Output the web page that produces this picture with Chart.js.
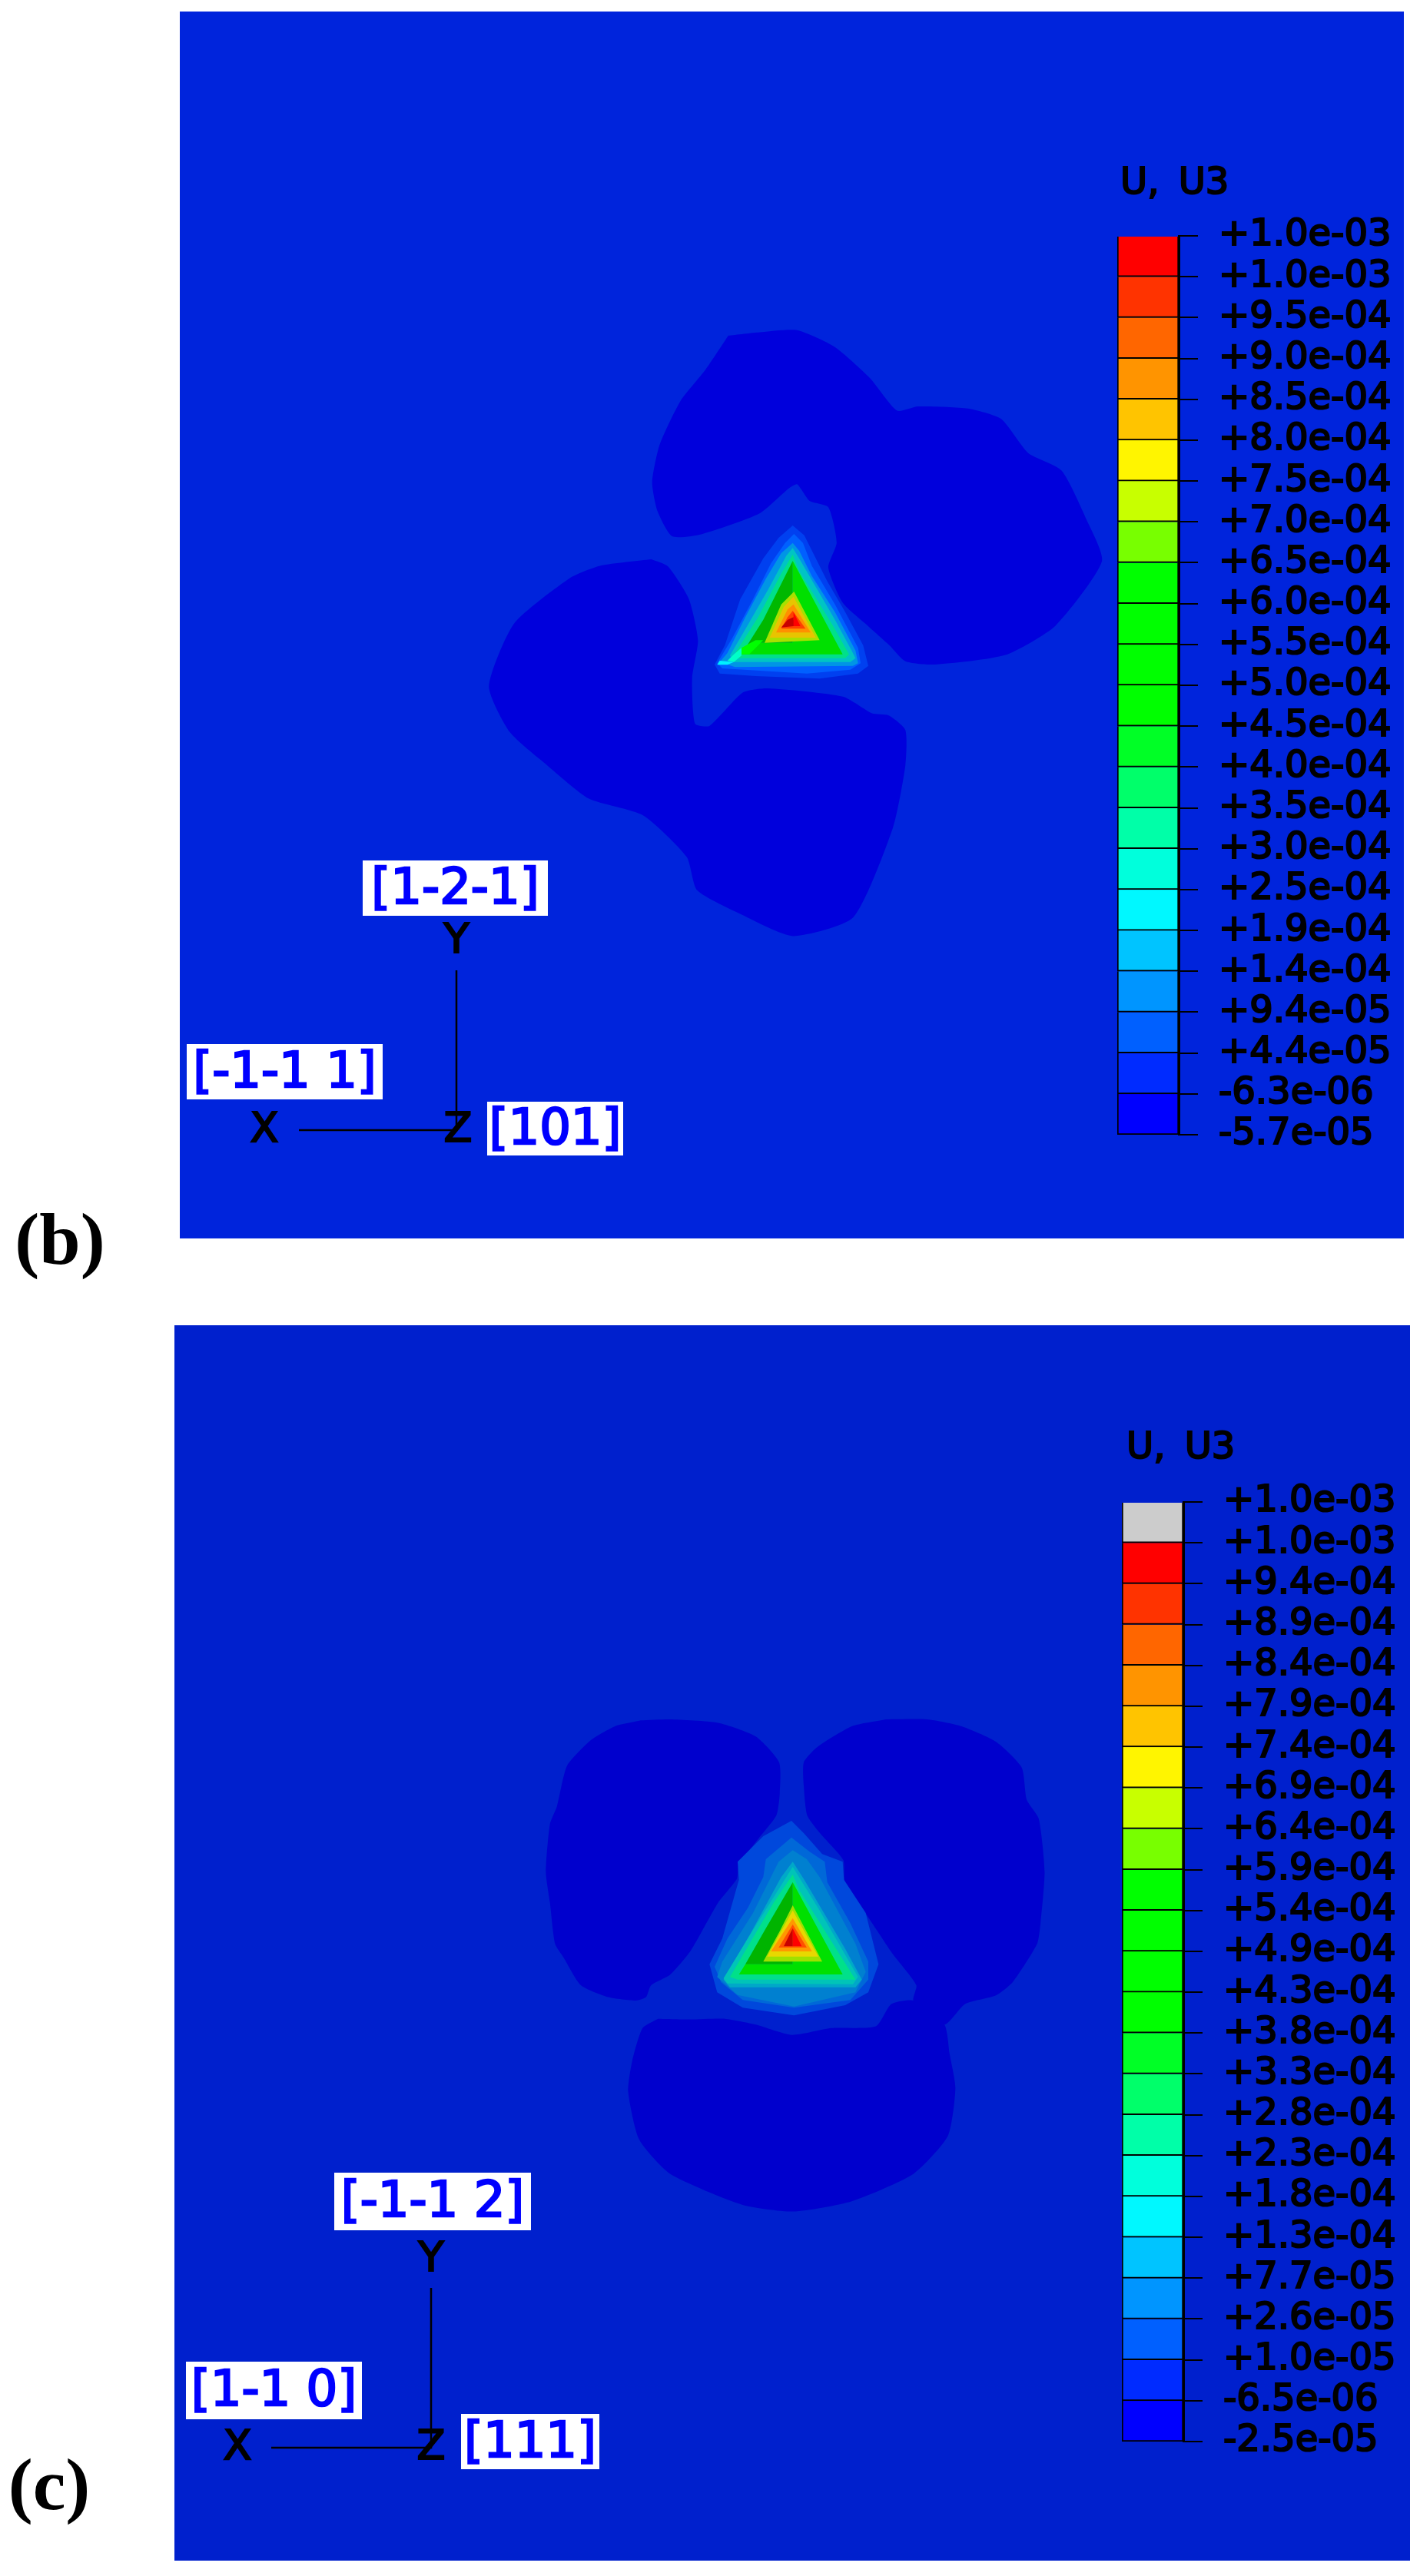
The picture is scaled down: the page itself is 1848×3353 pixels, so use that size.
<!DOCTYPE html>
<html>
<head>
<meta charset="utf-8">
<title>U3 contour maps</title>
<script src="https://cdn.jsdelivr.net/npm/chart.js@4"></script>
<style>
  html, body { margin: 0; padding: 0; background: #fff; }
  #wrap { position: relative; width: 1848px; height: 3353px; overflow: hidden; }
  canvas { position: absolute; }
</style>
</head>
<body>
<div id="wrap">
  <canvas id="field" width="1848" height="3353" style="left:0;top:0"></canvas>
  <canvas id="legend-b"></canvas>
  <canvas id="legend-c"></canvas>
</div>
<script>
// === DATA ===
const ticksB = ["+1.0e-03","+1.0e-03","+9.5e-04","+9.0e-04","+8.5e-04","+8.0e-04","+7.5e-04","+7.0e-04","+6.5e-04","+6.0e-04","+5.5e-04","+5.0e-04","+4.5e-04","+4.0e-04","+3.5e-04","+3.0e-04","+2.5e-04","+1.9e-04","+1.4e-04","+9.4e-05","+4.4e-05","-6.3e-06","-5.7e-05"];
const ticksC = ["+1.0e-03","+1.0e-03","+9.4e-04","+8.9e-04","+8.4e-04","+7.9e-04","+7.4e-04","+6.9e-04","+6.4e-04","+5.9e-04","+5.4e-04","+4.9e-04","+4.3e-04","+3.8e-04","+3.3e-04","+2.8e-04","+2.3e-04","+1.8e-04","+1.3e-04","+7.7e-05","+2.6e-05","+1.0e-05","-6.5e-06","-2.5e-05"];
const bandsB = ["#ff0000","#ff3300","#ff6600","#ff9400","#ffc400","#fff500","#c8ff00","#78ff00","#00ff00","#00ff00","#00ff00","#00ff00","#00ff26","#00ff6a","#00ffa8","#00ffdc","#00f8ff","#00c4ff","#0095ff","#0060ff","#002bff","#0000ff"];
const bandsC = ["#cccccc", ...bandsB];

// contour outlines (page = crop / k + origin)
const lobesB = [
  [[605,68],[680,60],[770,55],[860,95],[945,170],[1010,248],[1060,238],[1180,243],[1260,268],[1325,350],[1405,392],[1465,510],[1502,610],[1390,765],[1270,835],[1100,858],[1030,850],[990,810],[940,765],[880,710],[845,625],[865,565],[845,480],[800,465],[770,425],[750,435],[680,495],[540,545],[470,550],[435,490],[422,420],[440,330],[490,225],[550,150]],
  [[420,605],[460,622],[510,700],[532,800],[518,890],[525,1000],[560,1005],[640,925],[700,915],[880,935],[950,975],[990,980],[1030,1015],[1030,1100],[1000,1250],[905,1465],[760,1510],[640,1460],[530,1400],[505,1320],[400,1220],[270,1180],[170,1100],[80,1020],[30,910],[90,760],[225,650],[300,620]]
];
const ringsB = [
  ["#0040f0",[[395,12],[440,50],[470,110],[530,230],[600,350],[670,480],[690,560],[650,590],[500,610],[250,600],[110,590],[90,555],[130,480],[190,300],[280,140],[340,60]]],
  ["#0060ff",[[400,45],[435,80],[470,170],[560,320],[650,490],[660,550],[620,575],[450,590],[120,570],[100,550],[160,450],[240,300],[310,160],[365,80]]],
  ["#0095e5",[[395,80],[420,110],[470,210],[560,350],[640,500],[650,550],[630,560],[170,565],[110,545],[140,510],[210,370],[290,220],[350,120]]],
  ["#00c4c4",[[395,100],[420,140],[560,380],[625,500],[640,530],[620,545],[165,545],[150,520],[220,400],[300,260],[370,130]]],
  ["#00e08a",[[395,125],[420,190],[550,400],[615,515],[600,530],[180,530],[165,520],[260,370],[350,200]]],
  ["#00e000",[[395,150],[590,515],[195,515],[250,470],[395,470]]],
  ["#00b800",[[395,150],[395,470],[250,470],[195,515],[280,380]]],
  ["#00ffc8",[[165,545],[195,520],[195,490],[165,515],[140,540]]],
  ["#00f0ff",[[110,540],[165,545],[140,556],[100,556]]],
  ["#00ff00",[[195,490],[250,460],[280,460],[225,515],[195,515]]],
  ["#a8e000",[[400,270],[500,460],[285,470],[350,320]]],
  ["#e8c400",[[398,290],[485,450],[305,450],[360,330]]],
  ["#ff9000",[[398,320],[465,430],[330,430],[375,340]]],
  ["#ff4000",[[395,345],[445,415],[350,415],[375,370]]],
  ["#ff0000",[[398,350],[425,405],[375,405],[398,380]]],
  ["#c80000",[[398,370],[398,405],[350,410],[375,380]]]
];
const lobesC = [
  [[345,88],[430,85],[570,95],[680,135],[748,210],[750,300],[740,365],[690,430],[630,510],[625,550],[570,620],[490,760],[430,830],[375,860],[360,895],[330,905],[250,895],[170,860],[120,780],[95,740],[80,620],[68,530],[80,390],[100,340],[130,220],[200,145],[270,105]],
  [[1060,85],[1180,85],[1280,105],[1380,150],[1455,225],[1470,320],[1505,375],[1522,530],[1510,680],[1500,740],[1430,850],[1380,890],[1290,915],[1230,975],[1140,905],[1148,860],[1080,770],[1000,650],[940,560],[935,495],[870,420],[830,365],[820,280],[820,210],[860,165],[960,105]],
  [[395,958],[490,960],[590,958],[680,975],[785,1005],[900,985],[1030,980],[1075,915],[1140,905],[1230,975],[1245,1060],[1262,1160],[1240,1300],[1140,1410],[960,1490],[790,1520],[640,1500],[430,1410],[340,1310],[308,1170],[320,1080],[350,985]]
];
const ringsC = [
  ["#0048dc",[[390,-30],[440,20],[510,100],[590,130],[595,200],[680,330],[730,530],[690,640],[600,690],[400,730],[200,700],[100,640],[70,530],[120,430],[185,200],[180,130],[280,30]]],
  ["#0068d8",[[390,35],[460,90],[520,130],[530,210],[620,370],[690,520],[690,590],[620,670],[400,700],[200,670],[115,600],[90,540],[140,430],[220,310],[280,190],[290,120]]],
  ["#0080d0",[[395,85],[450,120],[500,190],[640,450],[680,560],[640,640],[400,695],[180,650],[100,580],[120,520],[240,330],[340,130]]],
  ["#00a8c8",[[395,130],[440,200],[600,470],[665,590],[640,620],[150,620],[125,590],[230,410],[350,190]]],
  ["#00c4b8",[[395,150],[500,320],[650,580],[630,608],[140,605],[125,585],[250,380]]],
  ["#00e08a",[[395,180],[420,240],[640,590],[180,590],[150,580],[320,290]]],
  ["#00e000",[[395,210],[590,570],[185,570],[210,530],[395,530]]],
  ["#00b400",[[395,210],[395,530],[210,530],[290,390]]],
  ["#9ee000",[[395,300],[510,520],[280,520],[345,400]]],
  ["#e8d800",[[395,320],[495,500],[295,500]]],
  ["#ff9800",[[395,350],[470,480],[310,480]]],
  ["#ff5000",[[395,375],[450,465],[340,465]]],
  ["#ff0000",[[395,390],[430,460],[395,460]]],
  ["#c80000",[[395,390],[395,460],[360,460]]]
];

// panel corners and axis triads [x, y] in page units
const panelB = [[234,15],[1827,15],[1827,1612],[234,1612]];
const panelC = [[227,1725],[1835,1725],[1835,3333],[227,3333]];
const triadB = [[389,1471],[594,1471],[594,1263]];
const triadC = [[353,3186],[561,3186],[561,2978]];

// === TEXT ===
const boxes = [
  { text: "[1-2-1]", x: 472, y: 1120, w: 241, h: 72 },
  { text: "[-1-1 1]", x: 243, y: 1359, w: 255, h: 72 },
  { text: "[101]", x: 634, y: 1434, w: 177, h: 70 },
  { text: "[-1-1 2]", x: 435, y: 2828, w: 256, h: 75 },
  { text: "[1-1 0]", x: 242, y: 3074, w: 229, h: 75 },
  { text: "[111]", x: 600, y: 3142, w: 180, h: 72 }
];
const axisNames = [
  { text: "Y", x: 594, y: 1226 }, { text: "X", x: 344, y: 1472 }, { text: "Z", x: 596, y: 1472 },
  { text: "Y", x: 561, y: 2942 }, { text: "X", x: 309, y: 3187 }, { text: "Z", x: 561, y: 3187 }
];
const titles = [
  { text: "U, U3", x: 1458, y: 240 },
  { text: "U, U3", x: 1466, y: 1886 }
];
const captions = [
  { text: "(b)", x: 78, y: 1620 },
  { text: "(c)", x: 64, y: 3241 }
];

// === Build field chart ===
const sans = '"DejaVu Sans"';
const fieldDatasets = [];

function addShape(color, pts, ox, oy, kx, ky, tension) {
  fieldDatasets.push({
    data: [...pts, pts[0]].map(p => ({ x: ox + p[0] / kx, y: oy + p[1] / ky })),
    showLine: true,
    borderWidth: 0,
    borderColor: color,
    backgroundColor: color,
    pointRadius: 0,
    tension: tension || 0,
    fill: "shape"
  });
}

addShape("#0024dc", panelB, 0, 0, 1, 1);
addShape("#0020cd", panelC, 0, 0, 1, 1);

lobesB.forEach(l => addShape("#0000dc", l, 620, 400, 1.845, 1.845, 0.2));
ringsB.forEach(r => addShape(r[0], r[1], 900, 680, 3, 3));
lobesC.forEach(l => addShape("#0000cd", l, 680, 2200, 2.24, 2.24, 0.2));
ringsC.forEach(r => addShape(r[0], r[1], 900, 2380, 3, 3));

[triadB, triadC].forEach(t => {
  fieldDatasets.push({
    data: t.map(p => ({ x: p[0], y: p[1] })),
    showLine: true,
    borderColor: "#000",
    borderWidth: 2.5,
    pointRadius: 0,
    fill: false
  });
});

// first dataset is drawn on top, so flip to painter's order
fieldDatasets.reverse();

const textPlugin = {
  id: "fieldText",
  afterDraw(chart) {
    const { ctx, scales } = chart;
    const px = v => scales.x.getPixelForValue(v);
    const py = v => scales.y.getPixelForValue(v);
    ctx.save();
    ctx.textBaseline = "middle";

    boxes.forEach(b => {
      ctx.fillStyle = "#fff";
      ctx.fillRect(px(b.x), py(b.y), b.w, b.h);
      ctx.font = `64px ${sans}`;
      ctx.textAlign = "center";
      ctx.fillStyle = "#0000ff";
      ctx.strokeStyle = "#0000ff";
      ctx.lineWidth = 2.5;
      ctx.fillText(b.text, px(b.x + b.w / 2), py(b.y + b.h / 2) + 3);
      ctx.strokeText(b.text, px(b.x + b.w / 2), py(b.y + b.h / 2) + 3);
    });

    ctx.fillStyle = "#000";
    ctx.strokeStyle = "#000";
    ctx.font = `54px ${sans}`;
    ctx.lineWidth = 2.2;
    axisNames.forEach(a => {
      ctx.fillText(a.text, px(a.x), py(a.y));
      ctx.strokeText(a.text, px(a.x), py(a.y));
    });

    ctx.textAlign = "left";
    ctx.font = `48px ${sans}`;
    ctx.wordSpacing = "10px";
    titles.forEach(t => {
      ctx.fillText(t.text, px(t.x), py(t.y));
      ctx.strokeText(t.text, px(t.x), py(t.y));
    });
    ctx.wordSpacing = "0px";

    ctx.textAlign = "center";
    ctx.font = 'bold 96px "Liberation Serif"';
    captions.forEach(c => ctx.fillText(c.text, px(c.x), py(c.y)));
    ctx.restore();
  }
};

new Chart(document.getElementById("field"), {
  type: "scatter",
  data: { datasets: fieldDatasets },
  options: {
    responsive: false,
    animation: false,
    layout: { padding: 0 },
    plugins: { legend: { display: false }, tooltip: { enabled: false } },
    scales: {
      x: { type: "linear", display: false, min: 0, max: 1848 },
      y: { type: "linear", display: false, min: 0, max: 3353, reverse: true }
    }
  },
  plugins: [textPlugin]
});

// === Build colour legends ===
function buildLegend(id, bands, labels, left, top, stepH) {
  const pad = 40;
  const barW = 80;
  const axisW = 306;
  const canvas = document.getElementById(id);
  canvas.width = barW + axisW + 4;
  canvas.height = bands.length * stepH + pad * 2;
  canvas.style.left = (left - 2) + "px";
  canvas.style.top = (top - pad) + "px";

  new Chart(canvas, {
    type: "bar",
    data: {
      labels: ["U3"],
      datasets: bands.map(color => ({
        data: [1],
        backgroundColor: color,
        borderColor: "#000",
        borderWidth: 2,
        barPercentage: 1,
        categoryPercentage: 1,
        stack: "u3"
      }))
    },
    options: {
      responsive: false,
      animation: false,
      layout: { padding: { top: pad, bottom: pad, left: 2, right: 2 } },
      plugins: { legend: { display: false }, tooltip: { enabled: false } },
      scales: {
        x: { display: false, stacked: true },
        y: {
          position: "right",
          stacked: true,
          reverse: true,
          min: 0,
          max: bands.length,
          afterFit(scale) {
            scale.width = axisW;
            scale.paddingTop = 0;
            scale.paddingBottom = 0;
          },
          afterBuildTicks(scale) {
            scale.ticks = labels.map((_, i) => ({ value: i }));
          },
          border: { display: true, color: "#000", width: 3 },
          grid: { drawOnChartArea: false, drawTicks: true, tickLength: 25, color: "#000", lineWidth: 2 },
          ticks: {
            autoSkip: false,
            padding: 27,
            labelOffset: 0,
            color: "#000",
            font: { family: "DejaVu Sans", size: 48 },
            textStrokeColor: "#000",
            textStrokeWidth: 2.2,
            callback: (v) => labels[v]
          }
        }
      }
    }
  });
}

buildLegend("legend-b", bandsB, ticksB, 1454, 307, 53.2);
buildLegend("legend-c", bandsC, ticksC, 1460, 1955, 53.2);
</script>
</body>
</html>
